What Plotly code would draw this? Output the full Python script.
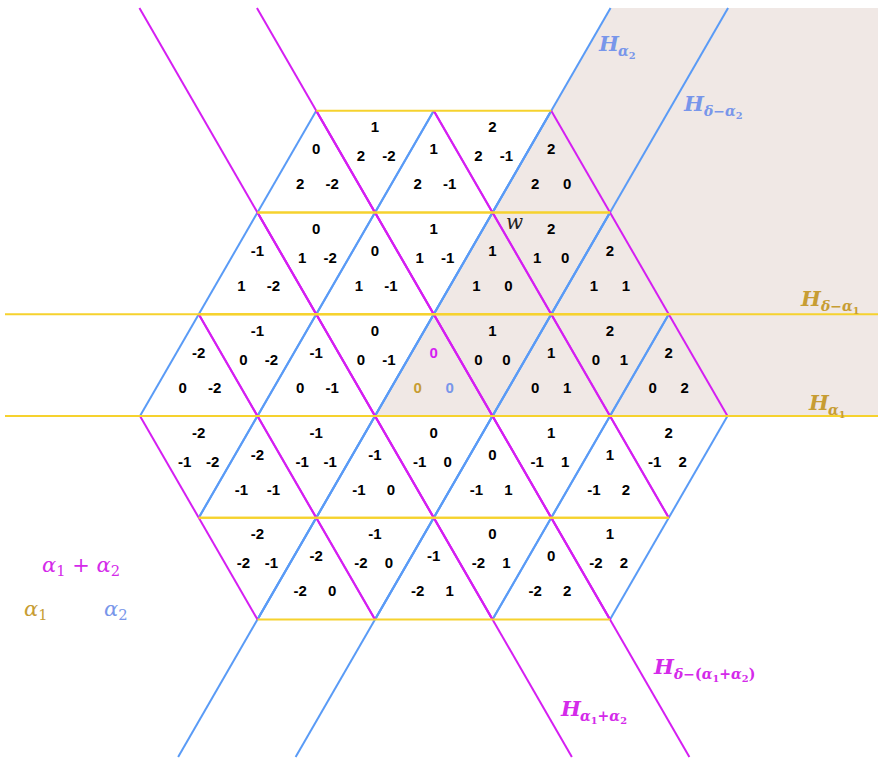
import math
import plotly.graph_objects as go

# ---------------- data ----------------
# Each alcove carries three integers:
#   top  -> coefficient for alpha1+alpha2 (magenta lines)
#   left -> coefficient for alpha1 (yellow lines)
#   right-> coefficient for alpha2 (blue lines)
top_vals = [
    [0, 1, 1, 2, 2],
    [-1, 0, 0, 1, 1, 2, 2],
    [-2, -1, -1, 0, 0, 1, 1, 2, 2],
    [-2, -2, -1, -1, 0, 0, 1, 1, 2],
    [-2, -2, -1, -1, 0, 0, 1],
]
left_vals = [
    [2, 2, 2, 2, 2],
    [1, 1, 1, 1, 1, 1, 1],
    [0, 0, 0, 0, 0, 0, 0, 0, 0],
    [-1, -1, -1, -1, -1, -1, -1, -1, -1],
    [-2, -2, -2, -2, -2, -2, -2],
]
right_vals = [
    [-2, -2, -1, -1, 0],
    [-2, -2, -1, -1, 0, 0, 1],
    [-2, -2, -1, -1, 0, 0, 1, 1, 2],
    [-2, -1, -1, 0, 0, 1, 1, 2, 2],
    [-1, 0, 0, 1, 1, 2, 2],
]

# Reflecting hyperplanes drawn across the whole picture: (root, level)
hyper_root = ["a1", "a1", "a2", "a2", "a12", "a12"]
hyper_level = [0, 1, 0, 1, 0, 1]
hyper_sub = ["<i>α</i><sub>1</sub>", "<i>δ</i>−<i>α</i><sub>1</sub>",
             "<i>α</i><sub>2</sub>", "<i>δ</i>−<i>α</i><sub>2</sub>",
             "<i>α</i><sub>1</sub>+<i>α</i><sub>2</sub>",
             "<i>δ</i>−(<i>α</i><sub>1</sub>+<i>α</i><sub>2</sub>)"]

# ---------------- styling ----------------
YEL = "#f6d22e"
BLU = "#5a9bf6"
MAG = "#d51ff2"
YEL_T = "#c79d33"
BLU_T = "#7896ea"
MAG_T = "#d42aea"
SHADE = "#f0e8e5"
S3 = math.sqrt(3) / 2
PX = 1 / 117.5          # one pixel in data units
ORX, ORY = 375, 416     # pixel position of the origin

def xy(a, b):
    """alpha1-coordinate a, alpha2-coordinate b -> cartesian."""
    return b + a / 2, a * S3

def pxy(px, py):
    return (px - ORX) * PX, (ORY - py) * PX

XMIN, YTOP = pxy(5, 8)
XMAX, YBOT = pxy(878, 757)
A_TOP, A_BOT = YTOP / S3, YBOT / S3

fig = go.Figure()

# shaded dominant chamber (above H_alpha1, right of H_alpha2)
cx0, cy0 = xy(0, 0)
cx1, cy1 = xy(A_TOP, 0)
fig.add_trace(go.Scatter(
    x=[cx0, XMAX, XMAX, cx1, cx0], y=[cy0, cy0, YTOP, YTOP, cy0],
    fill="toself", fillcolor=SHADE, line=dict(width=0), mode="lines",
    hoverinfo="skip"))

# triangle edges
edges = {"h": ([], []), "b": ([], []), "m": ([], [])}
def add_edge(kind, p, q):
    (x0, y0), (x1, y1) = xy(*p), xy(*q)
    edges[kind][0].extend([x0, x1, None])
    edges[kind][1].extend([y0, y1, None])

tri = []
for r in range(len(top_vals)):
    for t, k1, k2 in zip(top_vals[r], left_vals[r], right_vals[r]):
        up = (t == k1 + k2)
        tri.append((t, k1, k2, up))
        if up:
            add_edge("h", (k1, k2), (k1, k2 + 1))
            add_edge("b", (k1, k2), (k1 + 1, k2))
            add_edge("m", (k1, k2 + 1), (k1 + 1, k2))
        else:
            add_edge("h", (k1 + 1, k2), (k1 + 1, k2 + 1))
            add_edge("b", (k1 + 1, k2 + 1), (k1, k2 + 1))
            add_edge("m", (k1 + 1, k2), (k1, k2 + 1))

# long hyperplanes
for root, lev in zip(hyper_root, hyper_level):
    if root == "a1":
        y = lev * S3
        pts = ([XMIN, XMAX], [y, y])
        kind = "h"
    elif root == "a2":
        p, q = xy(A_TOP, lev), xy(A_BOT, lev)
        pts = ([p[0], q[0]], [p[1], q[1]])
        kind = "b"
    else:
        p, q = xy(A_TOP, lev - A_TOP), xy(A_BOT, lev - A_BOT)
        pts = ([p[0], q[0]], [p[1], q[1]])
        kind = "m"
    edges[kind][0].extend(pts[0] + [None])
    edges[kind][1].extend(pts[1] + [None])

for kind, col in (("b", BLU), ("m", MAG), ("h", YEL)):
    fig.add_trace(go.Scatter(x=edges[kind][0], y=edges[kind][1], mode="lines",
                             line=dict(color=col, width=2), hoverinfo="skip"))

# numbers in each alcove
tx, ty, tt, tc = [], [], [], []
for t, k1, k2, up in tri:
    if up:
        cx, cy = xy(k1 + 1 / 3, k2 + 1 / 3)
        offs = [(0, 28), (-16, -7), (16, -7)]
    else:
        cx, cy = xy(k1 + 2 / 3, k2 + 2 / 3)
        offs = [(0, 16), (-14, -13), (14, -13)]
    special = (t == 0 and k1 == 0 and k2 == 0)
    cols = [MAG, YEL_T, BLU_T] if special else ["#000000"] * 3
    for (dx, dy), v, c in zip(offs, (t, k1, k2), cols):
        tx.append(cx + dx * PX)
        ty.append(cy + dy * PX)
        tt.append(str(v))
        tc.append(c)
fig.add_trace(go.Scatter(x=tx, y=ty, text=tt, mode="text", textposition="middle center",
                         textfont=dict(family="Liberation Sans, Arial", size=15,
                                       color=tc, weight="bold"),
                         hoverinfo="skip"))

# hyperplane labels: H (left edge, centre y) and subscript start x
label_px = {
    0: (806, 402, 826, YEL_T), 1: (798, 298, 818, YEL_T),
    2: (596, 43, 616, BLU_T), 3: (681, 103, 701, BLU_T),
    4: (558, 708, 578, MAG_T), 5: (651, 666, 671, MAG_T),
}
SERIF = "DejaVu Serif, Liberation Serif"
for i, sub in enumerate(hyper_sub):
    hx, hy, sx, col = label_px[i]
    x, y = pxy(hx, hy)
    fig.add_annotation(x=x, y=y, text="<b><i>H</i></b>", showarrow=False,
                       xanchor="left", yanchor="middle",
                       font=dict(family=SERIF, size=21, color=col))
    x, y = pxy(sx, hy + 9)
    fig.add_annotation(x=x, y=y, text="<b>" + sub + "</b>", showarrow=False,
                       xanchor="left", yanchor="middle",
                       font=dict(family=SERIF, size=14, color=col))

# w label
wx, wy = pxy(514, 222)
fig.add_annotation(x=wx, y=wy, text="<i>w</i>", showarrow=False,
                   font=dict(family=SERIF, size=20, color="#222222"))

# legend of colours
for txt, px, py, col in (("<i>α</i><sub>1</sub> + <i>α</i><sub>2</sub>", 40, 566, MAG_T),
                         ("<i>α</i><sub>1</sub>", 22, 610, YEL_T),
                         ("<i>α</i><sub>2</sub>", 102, 610, BLU_T)):
    x, y = pxy(px, py)
    fig.add_annotation(x=x, y=y, text=txt, showarrow=False, xanchor="left", yanchor="middle",
                       font=dict(family=SERIF, size=21, color=col))

fig.update_layout(
    width=878, height=760, margin=dict(l=0, r=0, t=0, b=0),
    paper_bgcolor="white", plot_bgcolor="white", showlegend=False,
    xaxis=dict(range=[(0 - ORX) * PX, (878 - ORX) * PX], visible=False, fixedrange=True),
    yaxis=dict(range=[(ORY - 760) * PX, ORY * PX], visible=False, fixedrange=True),
)
fig.write_html("out.html", config={"displayModeBar": False, "staticPlot": True},
               post_script="document.body.style.margin='0';"
                           "document.documentElement.style.overflow='hidden';")
